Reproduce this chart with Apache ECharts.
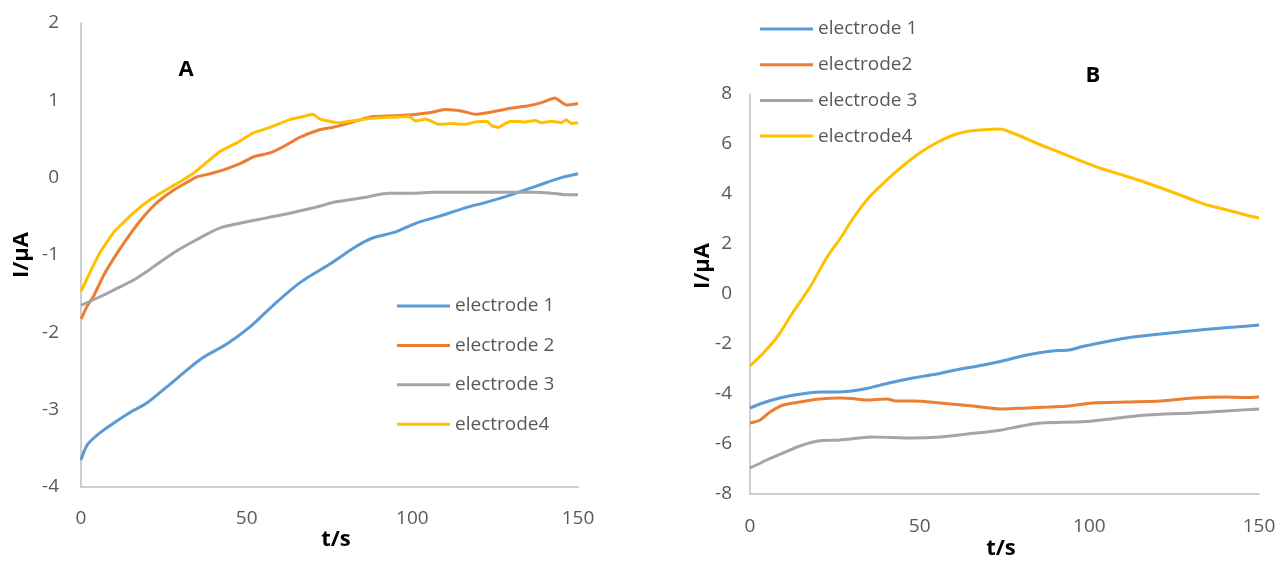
<!DOCTYPE html>
<html>
<head>
<meta charset="utf-8">
<script src="https://cdn.jsdelivr.net/npm/echarts@6/dist/echarts.min.js"></script>
<style>
html,body{margin:0;padding:0;background:#fff;}
#chart{width:1283px;height:565px;}
</style>
</head>
<body>
<div id="chart"></div>
<script>
// ---------- Data ----------
// Chart A
const namesA = ['electrode 1', 'electrode 2', 'electrode 3', 'electrode4'];
const tA1 = [0,2,5.7,10,15,20,28,36,44,51,58,66,75,83,88,95,101,108,116,123,130,138,145,150];
const vA1 = [-3.65,-3.45,-3.30,-3.17,-3.03,-2.91,-2.63,-2.35,-2.15,-1.93,-1.65,-1.36,-1.12,-0.89,-0.78,-0.70,-0.59,-0.50,-0.39,-0.31,-0.22,-0.10,0.0,0.05];
const tA2 = [0,2,3.7,7,11,15,19,23,28,35,39,43,48,52,57,61,66,72,76,82,88,94,99,105,110,115,119,124,130,135,139,143,146.5,150];
const vA2 = [-1.83,-1.65,-1.54,-1.25,-0.97,-0.72,-0.50,-0.32,-0.16,0.01,0.05,0.10,0.18,0.27,0.32,0.40,0.52,0.62,0.65,0.72,0.79,0.80,0.81,0.84,0.88,0.86,0.82,0.85,0.90,0.93,0.97,1.03,0.94,0.96];
const tA3 = [0,5.7,10,16,22,28,35,42,49,56,64,72,76,85,93,100,107,114,122,130,136,142,146,150];
const vA3 = [-1.65,-1.54,-1.45,-1.32,-1.15,-0.97,-0.80,-0.65,-0.58,-0.52,-0.45,-0.37,-0.32,-0.26,-0.20,-0.20,-0.19,-0.19,-0.19,-0.19,-0.19,-0.20,-0.22,-0.22];
const tA4 = [0,3,5.7,10,16,21,26,30,34,38,42,47,52,57,63,67,70,72,75,78,83,88,93,99,101,104,108,112,116,119,122.5,124,126,128,130,134,137,139,142,145,146.5,148,150];
const vA4 = [-1.47,-1.20,-0.97,-0.70,-0.45,-0.28,-0.15,-0.05,0.06,0.20,0.34,0.45,0.58,0.65,0.75,0.79,0.82,0.76,0.73,0.71,0.74,0.77,0.78,0.79,0.73,0.76,0.69,0.70,0.69,0.72,0.73,0.67,0.65,0.70,0.73,0.72,0.74,0.71,0.73,0.71,0.75,0.70,0.71];

// Chart B
const namesB = ['electrode 1', 'electrode2', 'electrode 3', 'electrode4'];
const tB1 = [0,4,8.8,14,20.6,26.5,31,35,41,48,55,62,68,73.7,81.6,89,94,98,103,111,121,128,135.6,143,150];
const vB1 = [-4.56,-4.35,-4.16,-4.02,-3.92,-3.92,-3.86,-3.76,-3.56,-3.36,-3.20,-3.00,-2.86,-2.70,-2.44,-2.28,-2.24,-2.10,-1.96,-1.76,-1.60,-1.50,-1.40,-1.32,-1.24];
const tB2 = [0,3,5.9,9.8,14.7,20.6,26.5,30,34.4,40.4,43,48,56,65.7,74.6,81.6,88,94,101,111,121,130.6,140.6,146,150];
const vB2 = [-5.16,-5.04,-4.72,-4.44,-4.32,-4.20,-4.16,-4.18,-4.24,-4.20,-4.28,-4.28,-4.36,-4.48,-4.60,-4.56,-4.52,-4.48,-4.36,-4.32,-4.28,-4.16,-4.12,-4.14,-4.12];
const tB3 = [0,5,9.8,14.7,20,26.5,36,48,56,64,73.7,80,86,99,111,117,130.6,140,150];
const vB3 = [-6.96,-6.64,-6.36,-6.08,-5.88,-5.84,-5.72,-5.76,-5.72,-5.60,-5.45,-5.28,-5.16,-5.10,-4.92,-4.84,-4.76,-4.68,-4.60];
const tB4 = [0,4,8,12.7,17.7,22.6,27,30.5,35,40,45,50,55,60,64,68,73.7,76.6,80,85,91,97,103,110,117,124,130.6,135,140.6,145,150];
const vB4 = [-2.88,-2.35,-1.72,-0.72,0.28,1.45,2.30,3.05,3.85,4.52,5.12,5.64,6.05,6.36,6.50,6.56,6.60,6.48,6.30,6.00,5.68,5.35,5.04,4.75,4.44,4.10,3.76,3.55,3.36,3.20,3.04];

const colors = ['#5B9BD5', '#ED7D31', '#A5A5A5', '#FFC000'];

// ---------- Build options ----------
const zip = (t, v) => t.map((x, i) => [x, v[i]]);
const seriesA = [[tA1,vA1],[tA2,vA2],[tA3,vA3],[tA4,vA4]];
const seriesB = [[tB1,vB1],[tB2,vB2],[tB3,vB3],[tB4,vB4]];
const smoothA = [0.3, 0.15, 0.3, 0.1];
const smoothB = [0.3, 0.3, 0.3, 0.3];

const FONT = 'Open Sans';
const labelStyle = { color: '#595959', fontSize: 19, fontFamily: FONT };

function xAxis(gi, margin) {
  return {
    type: 'value', gridIndex: gi, min: 0, max: 150, interval: 50,
    axisLine: { show: true, onZero: false, lineStyle: { color: '#BFBFBF', width: 1.5 } },
    axisTick: { show: false }, splitLine: { show: false },
    axisLabel: Object.assign({ margin: margin }, labelStyle)
  };
}
function yAxis(gi, min, max, interval, margin) {
  return {
    type: 'value', gridIndex: gi, min: min, max: max, interval: interval,
    axisLine: { show: true, onZero: false, lineStyle: { color: '#BFBFBF', width: 1.5 } },
    axisTick: { show: false }, splitLine: { show: false },
    axisLabel: Object.assign({ margin: margin }, labelStyle)
  };
}
function mkSeries(list, names, gi, sm) {
  return list.map((p, i) => ({
    type: 'line', name: names[i], xAxisIndex: gi, yAxisIndex: gi,
    data: zip(p[0], p[1]), showSymbol: false, symbol: 'none', smooth: sm[i],
    lineStyle: { color: colors[i], width: 3 }, itemStyle: { color: colors[i] },
    z: 2 + i, animation: false
  }));
}
function legend(names, left, top, gap) {
  return {
    orient: 'vertical', left: left, top: top, itemGap: gap, padding: 0,
    itemWidth: 53, itemHeight: 3, icon: 'rect',
    data: names, selectedMode: false,
    textStyle: { color: '#595959', fontSize: 19, fontFamily: FONT, lineHeight: 22 }
  };
}

const option = {
  backgroundColor: '#fff',
  animation: false,
  grid: [
    { left: 81, top: 23, width: 497, height: 464 },
    { left: 750, top: 94, width: 509, height: 400 }
  ],
  xAxis: [xAxis(0, 22), xAxis(1, 23)],
  yAxis: [yAxis(0, -4, 2, 1, 22), yAxis(1, -8, 8, 2, 18)],
  legend: [
    legend(namesA, 397, 295, 17.4),
    legend(namesB, 760, 18, 13.7)
  ],
  series: mkSeries(seriesA, namesA, 0, smoothA).concat(mkSeries(seriesB, namesB, 1, smoothB)),
  graphic: [
    { type: 'text', x: 186, y: 70, style: { text: 'A', font: 'bold 22px ' + FONT, fill: '#000', align: 'center', verticalAlign: 'middle' } },
    { type: 'text', x: 1093, y: 76, style: { text: 'B', font: 'bold 22px ' + FONT, fill: '#000', align: 'center', verticalAlign: 'middle' } },
    { type: 'text', x: 336, y: 540, style: { text: 't/s', font: 'bold 22px ' + FONT, fill: '#000', align: 'center', verticalAlign: 'middle' } },
    { type: 'text', x: 1001, y: 549, style: { text: 't/s', font: 'bold 22px ' + FONT, fill: '#000', align: 'center', verticalAlign: 'middle' } },
    { type: 'text', x: 22, y: 255, rotation: Math.PI / 2, style: { text: 'I/µA', font: 'bold 22px ' + FONT, fill: '#000', align: 'center', verticalAlign: 'middle' } },
    { type: 'text', x: 703, y: 266, rotation: Math.PI / 2, style: { text: 'I/µA', font: 'bold 22px ' + FONT, fill: '#000', align: 'center', verticalAlign: 'middle' } }
  ]
};

const chart = echarts.init(document.getElementById('chart'), null, { renderer: 'canvas' });
chart.setOption(option);
</script>
</body>
</html>
